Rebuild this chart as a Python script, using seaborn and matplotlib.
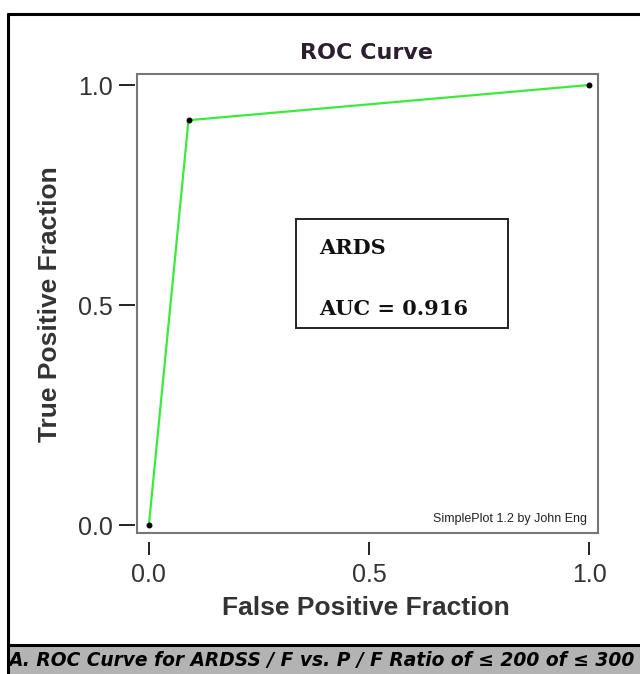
import matplotlib
matplotlib.use("Agg")
import matplotlib.pyplot as plt
import seaborn as sns
import pandas as pd
from matplotlib.patches import Rectangle
from matplotlib.lines import Line2D

# ROC points
fpf = [0.0, 0.09, 1.0]
tpf = [0.0, 0.92, 1.0]
tick_values = [0.0, 0.5, 1.0]
tick_labels = ["0.0", "0.5", "1.0"]
group_name = "ARDS"
auc = 0.916
caption = "A. ROC Curve for ARDSS / F vs. P / F Ratio of \u2264 200 of \u2264 300"

sns.set_style("white")
plt.rcParams['font.family'] = ['Liberation Sans', 'DejaVu Sans']

W, H = 640, 674
fig = plt.figure(figsize=(W / 100, H / 100), dpi=100)
ax = fig.add_axes([137 / W, 141 / H, 461 / W, 459 / H])

df = pd.DataFrame({"fpf": fpf, "tpf": tpf})
sns.lineplot(data=df, x="fpf", y="tpf", ax=ax, sort=False, color="#3bea3b",
             linewidth=1.6, marker="o", markersize=3.5,
             markerfacecolor="black", markeredgecolor="black")

ax.set_xlim(-0.027, 1.02)
ax.set_ylim(-0.018, 1.025)
ax.set_xticks(tick_values)
ax.set_xticklabels(tick_labels)
ax.set_yticks(tick_values)
ax.set_yticklabels(tick_labels)
ax.set_xlabel("")
ax.set_ylabel("")
ax.grid(False)

# frame drawn separately so the ticks can sit away from it
for s in ax.spines.values():
    s.set_visible(False)
ax.spines['bottom'].set_position(('outward', 9 * 0.72))
ax.spines['left'].set_position(('outward', 2.5 * 0.72))
ax.add_patch(Rectangle((0, 0), 1, 1, transform=ax.transAxes, fill=False,
                       edgecolor="#777777", lw=1.5, clip_on=False))

ax.tick_params(axis='x', bottom=True, direction='out', length=13 * 0.72,
               width=1.4, color="#222222", pad=8 * 0.72, labelsize=18,
               labelcolor="#333333")
ax.tick_params(axis='y', left=True, direction='out', length=16 * 0.72,
               width=1.4, color="#222222", pad=6 * 0.72, labelsize=18,
               labelcolor="#333333")

# AUC box
ax.add_patch(Rectangle((0.345, 0.447), 0.46, 0.238, transform=ax.transAxes,
                       fill=False, edgecolor="#222222", lw=1.4))
ax.text(0.395, 0.621, group_name, transform=ax.transAxes, ha='left', va='center',
        family='DejaVu Serif', weight='bold', size=15, color="#111111")
ax.text(0.395, 0.488, f"AUC = {auc}", transform=ax.transAxes, ha='left', va='center',
        family='DejaVu Serif', weight='bold', size=15, color="#111111")

ax.text(0.976, 0.03, "SimplePlot 1.2 by John Eng", transform=ax.transAxes,
        ha='right', va='center', size=9, color="#222222")

fig.text(366 / W, 1 - 53 / H, "ROC Curve", ha='center', va='center',
         family='DejaVu Sans', weight='bold', size=16, color="#2b1f2e")
fig.text(50 / W, 1 - 304 / H, "True Positive Fraction", rotation=90,
         ha='center', va='center', weight='bold', size=19, color="#333333")
fig.text(366 / W, 1 - 608 / H, "False Positive Fraction",
         ha='center', va='center', weight='bold', size=19, color="#333333")

# outer frame and caption strip
fig.add_artist(Rectangle((9.5 / W, 0), 1, (H - 646) / H, transform=fig.transFigure,
                         facecolor="#b3b3b3", edgecolor='none'))
fig.add_artist(Line2D([8 / W, 1], [1 - 645 / H, 1 - 645 / H], transform=fig.transFigure,
                      color='black', lw=2.2))
fig.add_artist(Line2D([8 / W, 8 / W], [0, 1 - 14 / H], transform=fig.transFigure,
                      color='black', lw=2.2))
fig.add_artist(Line2D([8 / W, 1], [1 - 14 / H, 1 - 14 / H], transform=fig.transFigure,
                      color='black', lw=2.2))
fig.text(321 / W, 1 - 660 / H, caption, ha='center', va='center',
         family='DejaVu Sans', weight='bold', style='oblique', size=13.4,
         color='black')

fig.savefig("out.png", dpi=100)
